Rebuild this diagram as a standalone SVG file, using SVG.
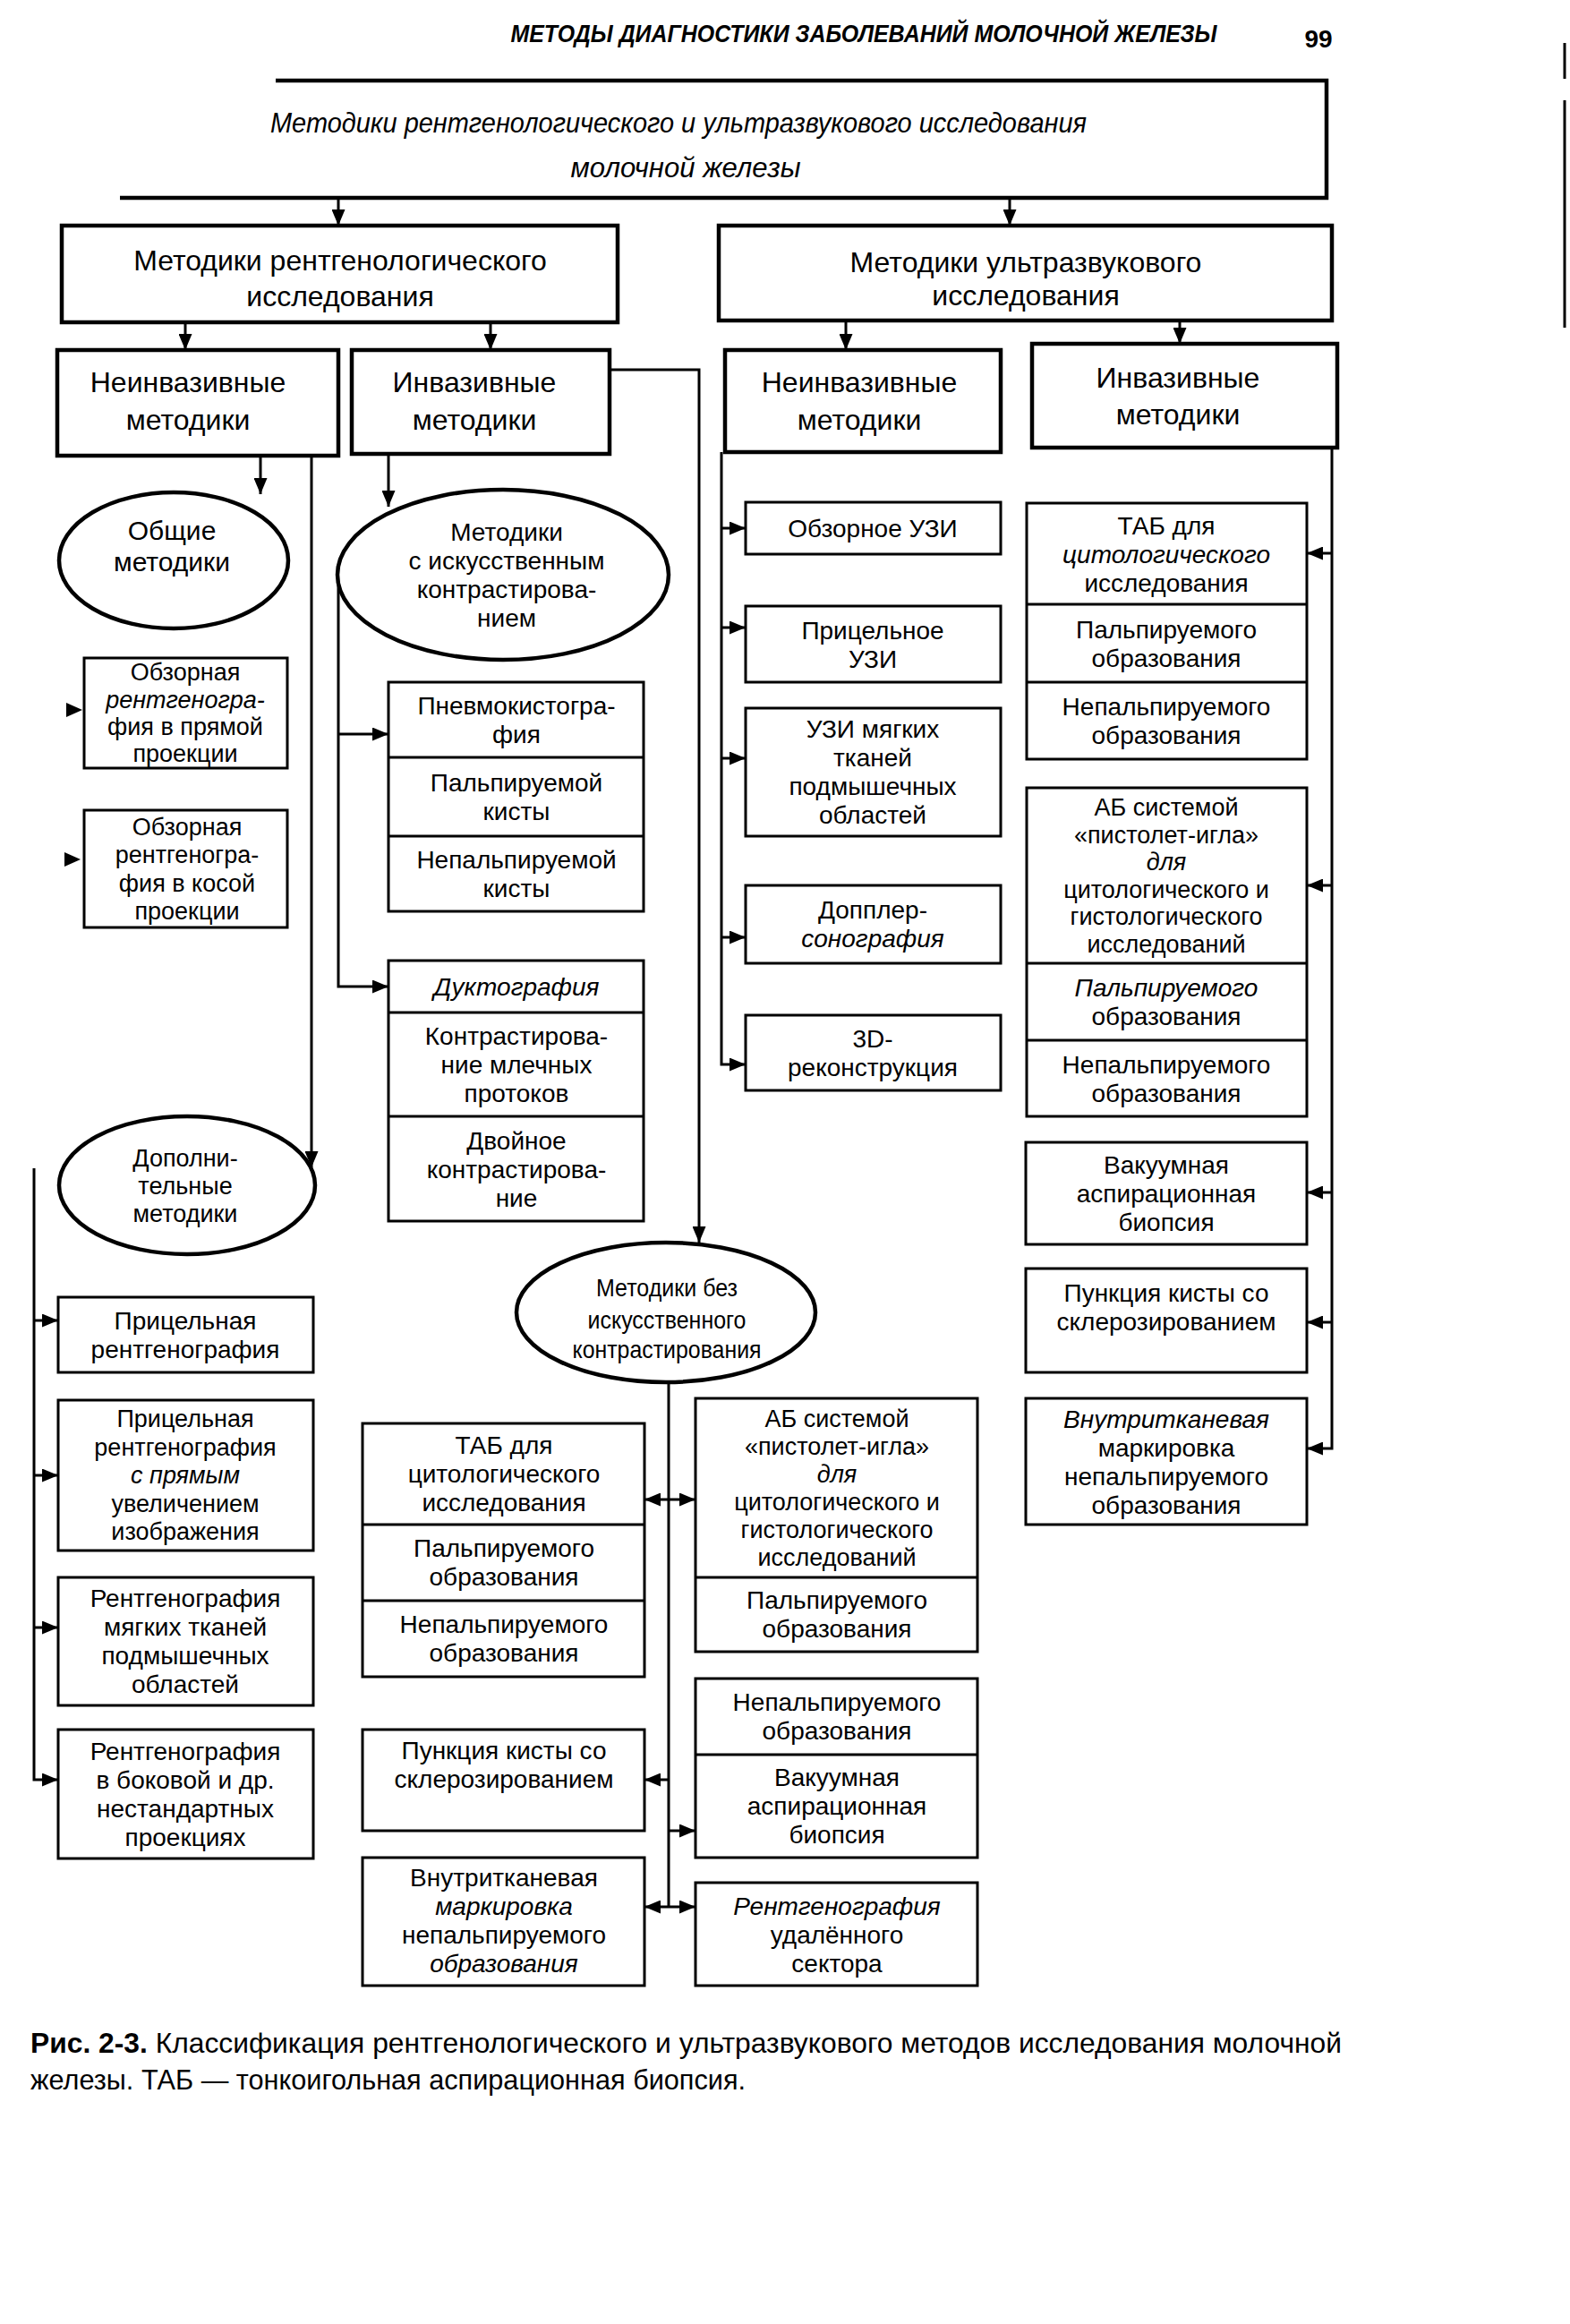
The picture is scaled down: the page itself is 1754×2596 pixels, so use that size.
<svg xmlns="http://www.w3.org/2000/svg" width="1754" height="2596" viewBox="0 0 1754 2596">
<defs>
<style>
.t{font-family:"Liberation Sans Narrow","Liberation Sans",Arial,sans-serif;font-size:28px;text-anchor:middle;fill:#000}
.h{font-size:32px}
.m{font-size:30px}
.k{font-size:27px}
.i{font-style:italic}
.b{font-weight:bold}
.bx{fill:#fff;stroke:#000;stroke-width:4.5}
.lf{fill:#fff;stroke:#000;stroke-width:3}
.dv{stroke:#000;stroke-width:3;fill:none}
.el{fill:#fff;stroke:#000;stroke-width:4.5}
.c{fill:none;stroke:#000;stroke-width:3}
.a{marker-end:url(#ah)}
.d{marker-start:url(#ah);marker-end:url(#ah)}
</style>
<marker id="ah" viewBox="0 0 12 10" refX="12" refY="5" markerWidth="6" markerHeight="5" orient="auto-start-reverse" markerUnits="strokeWidth">
<path d="M0,0 L12,5 L0,10 z" fill="#000"/>
</marker>
</defs>
<rect width="1754" height="2596" fill="#fff"/>

<g id="header">
<text class="t b i" x="965" y="47" textLength="789" lengthAdjust="spacingAndGlyphs">МЕТОДЫ ДИАГНОСТИКИ ЗАБОЛЕВАНИЙ МОЛОЧНОЙ ЖЕЛЕЗЫ</text>
<text class="t b" x="1473" y="53">99</text>
<line x1="1748" y1="48" x2="1748" y2="88" stroke="#000" stroke-width="3"/>
<line x1="1748" y1="112" x2="1748" y2="366" stroke="#000" stroke-width="3"/>
</g>

<g id="connectors">
<path class="c a" d="M378,221 V252"/>
<path class="c a" d="M1128,221 V252"/>
<path class="c a" d="M207,360 V391"/>
<path class="c a" d="M548,360 V391"/>
<path class="c a" d="M945,358 V391"/>
<path class="c a" d="M1318,358 V384"/>
<path class="c a" d="M291,509 V552"/>
<path class="c a" d="M348,509 V1304"/>
<path class="c a" d="M434,507 V566"/>
<path class="c a" d="M681,413 H781 V1388"/>
<path class="c a" d="M378,642 V1102 H434"/>
<path class="c a" d="M378,820 H434"/>
<polygon points="74,785 92,793 74,801" fill="#000"/>
<polygon points="72,952 90,960 72,968" fill="#000"/>
<path class="c a" d="M38,1305 V1988 H65"/>
<path class="c a" d="M38,1475 H65"/>
<path class="c a" d="M38,1648 H65"/>
<path class="c a" d="M38,1818 H65"/>
<path class="c" d="M747,1543 V2130"/>
<path class="c d" d="M720,1675 H777"/>
<path class="c a" d="M747,1988 H720"/>
<path class="c a" d="M747,2045 H777"/>
<path class="c d" d="M720,2130 H777"/>
<path class="c a" d="M806,505 V1189 H833"/>
<path class="c a" d="M806,590 H833"/>
<path class="c a" d="M806,701 H833"/>
<path class="c a" d="M806,847 H833"/>
<path class="c a" d="M806,1047 H833"/>
<path class="c a" d="M1488,500 V1618 H1460"/>
<path class="c a" d="M1488,618 H1460"/>
<path class="c a" d="M1488,989 H1460"/>
<path class="c a" d="M1488,1332 H1460"/>
<path class="c a" d="M1488,1477 H1460"/>
</g>

<g id="n-root">
<path d="M308,90 H1482 V221 H134" fill="none" stroke="#000" stroke-width="4.5"/>
<text class="t h i" x="758" y="148" textLength="912" lengthAdjust="spacingAndGlyphs">Методики рентгенологического и ультразвукового исследования</text>
<text class="t h i" x="766" y="198" textLength="257" lengthAdjust="spacingAndGlyphs">молочной железы</text>
</g>

<g id="n-xray">
<rect class="bx" x="69" y="252" width="621" height="108"/>
<text class="t h" x="380" y="302">Методики рентгенологического</text>
<text class="t h" x="380" y="342">исследования</text>
</g>
<g id="n-us">
<rect class="bx" x="803" y="252" width="685" height="106"/>
<text class="t h" x="1146" y="304">Методики ультразвукового</text>
<text class="t h" x="1146" y="341">исследования</text>
</g>

<g id="n-xray-noninv">
<rect class="bx" x="64" y="391" width="314" height="118"/>
<text class="t h" x="210" y="438">Неинвазивные</text>
<text class="t h" x="210" y="480">методики</text>
</g>
<g id="n-xray-inv">
<rect class="bx" x="393" y="391" width="288" height="116"/>
<text class="t h" x="530" y="438">Инвазивные</text>
<text class="t h" x="530" y="480">методики</text>
</g>
<g id="n-us-noninv">
<rect class="bx" x="810" y="391" width="308" height="114"/>
<text class="t h" x="960" y="438">Неинвазивные</text>
<text class="t h" x="960" y="480">методики</text>
</g>
<g id="n-us-inv">
<rect class="bx" x="1153" y="384" width="341" height="116"/>
<text class="t h" x="1316" y="433">Инвазивные</text>
<text class="t h" x="1316" y="474">методики</text>
</g>

<g id="n-general">
<ellipse class="el" cx="194" cy="626" rx="128" ry="76"/>
<text class="t m" x="192" y="603">Общие</text>
<text class="t m" x="192" y="638">методики</text>
</g>
<g id="n-contrast">
<ellipse class="el" cx="562" cy="642" rx="185" ry="95"/>
<text class="t" x="566" y="604">Методики</text>
<text class="t" x="566" y="636">с искусственным</text>
<text class="t" x="566" y="668">контрастирова-</text>
<text class="t" x="566" y="700">нием</text>
</g>
<g id="n-additional">
<ellipse class="el" cx="209" cy="1324" rx="143" ry="77"/>
<text class="t k" x="207" y="1303">Дополни-</text>
<text class="t k" x="207" y="1334">тельные</text>
<text class="t k" x="207" y="1365">методики</text>
</g>
<g id="n-nocontrast">
<ellipse class="el" cx="744" cy="1466" rx="167" ry="78"/>
<text class="t" x="745" y="1448" textLength="158" lengthAdjust="spacingAndGlyphs">Методики без</text>
<text class="t" x="745" y="1484" textLength="177" lengthAdjust="spacingAndGlyphs">искусственного</text>
<text class="t" x="745" y="1517" textLength="211" lengthAdjust="spacingAndGlyphs">контрастирования</text>
</g>

<g id="n-survey-direct">
<rect class="lf" x="94" y="735" width="227" height="123"/>
<text class="t k" x="207" y="760">Обзорная</text>
<text class="t k i" x="207" y="791">рентгеногра-</text>
<text class="t k" x="207" y="821">фия в прямой</text>
<text class="t k" x="207" y="851">проекции</text>
</g>
<g id="n-survey-oblique">
<rect class="lf" x="94" y="905" width="227" height="131"/>
<text class="t k" x="209" y="933">Обзорная</text>
<text class="t k" x="209" y="964">рентгеногра-</text>
<text class="t k" x="209" y="996">фия в косой</text>
<text class="t k" x="209" y="1027">проекции</text>
</g>

<g id="n-pneumo">
<rect class="lf" x="434" y="762" width="285" height="256"/>
<line class="dv" x1="434" y1="846" x2="719" y2="846"/>
<line class="dv" x1="434" y1="934" x2="719" y2="934"/>
<text class="t" x="577" y="798">Пневмокистогра-</text>
<text class="t" x="577" y="830">фия</text>
<text class="t" x="577" y="884">Пальпируемой</text>
<text class="t" x="577" y="916">кисты</text>
<text class="t" x="577" y="970">Непальпируемой</text>
<text class="t" x="577" y="1002">кисты</text>
</g>
<g id="n-ducto">
<rect class="lf" x="434" y="1073" width="285" height="291"/>
<line class="dv" x1="434" y1="1131" x2="719" y2="1131"/>
<line class="dv" x1="434" y1="1247" x2="719" y2="1247"/>
<text class="t i" x="577" y="1112">Дуктография</text>
<text class="t" x="577" y="1167">Контрастирова-</text>
<text class="t" x="577" y="1199">ние млечных</text>
<text class="t" x="577" y="1231">протоков</text>
<text class="t" x="577" y="1284">Двойное</text>
<text class="t" x="577" y="1316">контрастирова-</text>
<text class="t" x="577" y="1348">ние</text>
</g>

<g id="n-spot">
<rect class="lf" x="65" y="1449" width="285" height="84"/>
<text class="t" x="207" y="1485">Прицельная</text>
<text class="t" x="207" y="1517">рентгенография</text>
</g>
<g id="n-spot-mag">
<rect class="lf" x="65" y="1564" width="285" height="168"/>
<text class="t k" x="207" y="1594">Прицельная</text>
<text class="t k" x="207" y="1626">рентгенография</text>
<text class="t k i" x="207" y="1657">с прямым</text>
<text class="t k" x="207" y="1689">увеличением</text>
<text class="t k" x="207" y="1720">изображения</text>
</g>
<g id="n-axilla-xray">
<rect class="lf" x="65" y="1762" width="285" height="143"/>
<text class="t" x="207" y="1795">Рентгенография</text>
<text class="t" x="207" y="1827">мягких тканей</text>
<text class="t" x="207" y="1859">подмышечных</text>
<text class="t" x="207" y="1891">областей</text>
</g>
<g id="n-lateral">
<rect class="lf" x="65" y="1932" width="285" height="144"/>
<text class="t" x="207" y="1966">Рентгенография</text>
<text class="t" x="207" y="1998">в боковой и др.</text>
<text class="t" x="207" y="2030">нестандартных</text>
<text class="t" x="207" y="2062">проекциях</text>
</g>

<g id="n-fnab-mid">
<rect class="lf" x="405" y="1590" width="315" height="283"/>
<line class="dv" x1="405" y1="1703" x2="720" y2="1703"/>
<line class="dv" x1="405" y1="1788" x2="720" y2="1788"/>
<text class="t" x="563" y="1624">ТАБ для</text>
<text class="t" x="563" y="1656">цитологического</text>
<text class="t" x="563" y="1688">исследования</text>
<text class="t" x="563" y="1739">Пальпируемого</text>
<text class="t" x="563" y="1771">образования</text>
<text class="t" x="563" y="1824">Непальпируемого</text>
<text class="t" x="563" y="1856">образования</text>
</g>
<g id="n-cnb-mid">
<rect class="lf" x="777" y="1562" width="315" height="283"/>
<line class="dv" x1="777" y1="1762" x2="1092" y2="1762"/>
<text class="t k" x="935" y="1594">АБ системой</text>
<text class="t k" x="935" y="1625">«пистолет-игла»</text>
<text class="t k i" x="935" y="1656">для</text>
<text class="t k" x="935" y="1687">цитологического и</text>
<text class="t k" x="935" y="1718">гистологического</text>
<text class="t k" x="935" y="1749">исследований</text>
<text class="t" x="935" y="1797">Пальпируемого</text>
<text class="t" x="935" y="1829">образования</text>
</g>
<g id="n-vab-mid">
<rect class="lf" x="777" y="1875" width="315" height="200"/>
<line class="dv" x1="777" y1="1960" x2="1092" y2="1960"/>
<text class="t" x="935" y="1911">Непальпируемого</text>
<text class="t" x="935" y="1943">образования</text>
<text class="t" x="935" y="1995">Вакуумная</text>
<text class="t" x="935" y="2027">аспирационная</text>
<text class="t" x="935" y="2059">биопсия</text>
</g>
<g id="n-cyst-mid">
<rect class="lf" x="405" y="1932" width="315" height="113"/>
<text class="t" x="563" y="1965">Пункция кисты со</text>
<text class="t" x="563" y="1997">склерозированием</text>
</g>
<g id="n-mark-mid">
<rect class="lf" x="405" y="2075" width="315" height="143"/>
<text class="t" x="563" y="2107">Внутритканевая</text>
<text class="t i" x="563" y="2139">маркировка</text>
<text class="t" x="563" y="2171">непальпируемого</text>
<text class="t i" x="563" y="2203">образования</text>
</g>
<g id="n-specimen">
<rect class="lf" x="777" y="2103" width="315" height="115"/>
<text class="t i" x="935" y="2139">Рентгенография</text>
<text class="t" x="935" y="2171">удалённого</text>
<text class="t" x="935" y="2203">сектора</text>
</g>

<g id="n-us-survey">
<rect class="lf" x="833" y="561" width="285" height="58"/>
<text class="t" x="975" y="600">Обзорное УЗИ</text>
</g>
<g id="n-us-spot">
<rect class="lf" x="833" y="677" width="285" height="85"/>
<text class="t" x="975" y="714">Прицельное</text>
<text class="t" x="975" y="746">УЗИ</text>
</g>
<g id="n-us-axilla">
<rect class="lf" x="833" y="791" width="285" height="143"/>
<text class="t" x="975" y="824">УЗИ мягких</text>
<text class="t" x="975" y="856">тканей</text>
<text class="t" x="975" y="888">подмышечных</text>
<text class="t" x="975" y="920">областей</text>
</g>
<g id="n-us-doppler">
<rect class="lf" x="833" y="989" width="285" height="87"/>
<text class="t" x="975" y="1026">Допплер-</text>
<text class="t i" x="975" y="1058">сонография</text>
</g>
<g id="n-us-3d">
<rect class="lf" x="833" y="1134" width="285" height="84"/>
<text class="t" x="975" y="1170">3D-</text>
<text class="t" x="975" y="1202">реконструкция</text>
</g>

<g id="n-fnab-us">
<rect class="lf" x="1147" y="562" width="313" height="286"/>
<line class="dv" x1="1147" y1="675" x2="1460" y2="675"/>
<line class="dv" x1="1147" y1="762" x2="1460" y2="762"/>
<text class="t" x="1303" y="597">ТАБ для</text>
<text class="t i" x="1303" y="629">цитологического</text>
<text class="t" x="1303" y="661">исследования</text>
<text class="t" x="1303" y="713">Пальпируемого</text>
<text class="t" x="1303" y="745">образования</text>
<text class="t" x="1303" y="799">Непальпируемого</text>
<text class="t" x="1303" y="831">образования</text>
</g>
<g id="n-cnb-us">
<rect class="lf" x="1147" y="880" width="313" height="367"/>
<line class="dv" x1="1147" y1="1076" x2="1460" y2="1076"/>
<line class="dv" x1="1147" y1="1162" x2="1460" y2="1162"/>
<text class="t k" x="1303" y="911">АБ системой</text>
<text class="t k" x="1303" y="942">«пистолет-игла»</text>
<text class="t k i" x="1303" y="972">для</text>
<text class="t k" x="1303" y="1003">цитологического и</text>
<text class="t k" x="1303" y="1033">гистологического</text>
<text class="t k" x="1303" y="1064">исследований</text>
<text class="t i" x="1303" y="1113">Пальпируемого</text>
<text class="t" x="1303" y="1145">образования</text>
<text class="t" x="1303" y="1199">Непальпируемого</text>
<text class="t" x="1303" y="1231">образования</text>
</g>
<g id="n-vab-us">
<rect class="lf" x="1146" y="1276" width="314" height="114"/>
<text class="t" x="1303" y="1311">Вакуумная</text>
<text class="t" x="1303" y="1343">аспирационная</text>
<text class="t" x="1303" y="1375">биопсия</text>
</g>
<g id="n-cyst-us">
<rect class="lf" x="1146" y="1417" width="314" height="116"/>
<text class="t" x="1303" y="1454">Пункция кисты со</text>
<text class="t" x="1303" y="1486">склерозированием</text>
</g>
<g id="n-mark-us">
<rect class="lf" x="1146" y="1562" width="314" height="141"/>
<text class="t i" x="1303" y="1595">Внутритканевая</text>
<text class="t" x="1303" y="1627">маркировка</text>
<text class="t" x="1303" y="1659">непальпируемого</text>
<text class="t" x="1303" y="1691">образования</text>
</g>

<g id="caption">
<text class="t h" x="34" y="2293" style="text-anchor:start" textLength="1465" lengthAdjust="spacingAndGlyphs"><tspan font-weight="bold">Рис. 2-3.</tspan> Классификация рентгенологического и ультразвукового методов исследования молочной</text>
<text class="t h" x="34" y="2334" style="text-anchor:start" textLength="799" lengthAdjust="spacingAndGlyphs">железы. ТАБ — тонкоигольная аспирационная биопсия.</text>
</g>
</svg>
